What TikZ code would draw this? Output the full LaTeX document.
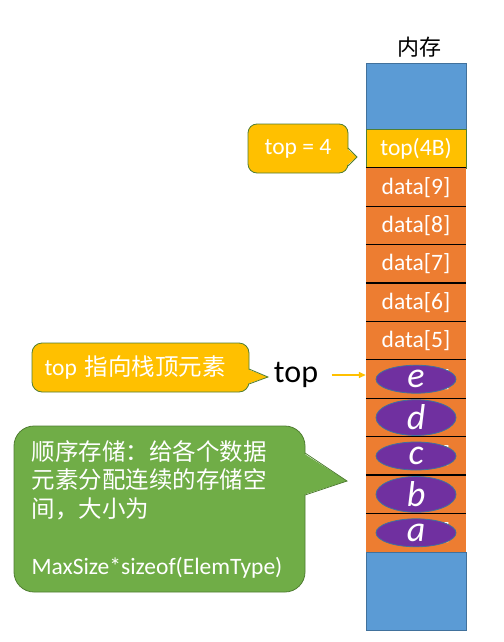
\documentclass[tikz,border=0pt]{standalone}
\usepackage{fontspec}
\setmainfont{Carlito}
\newfontfamily\cjk{Noto Sans CJK SC}
\usetikzlibrary{shapes.geometric,arrows.meta}
\definecolor{memblue}{HTML}{5B9BD5}
\definecolor{memorange}{HTML}{ED7D31}
\definecolor{memgold}{HTML}{FFC000}
\definecolor{memgreen}{HTML}{70AD47}
\definecolor{mempurple}{HTML}{7030A0}
\definecolor{rimgreen}{HTML}{507E32}
\definecolor{rimblue}{HTML}{41719C}
% pointer of a note: colour, x of edge, y top, y bottom, tip
\newcommand\notetip[5]{%
  \fill[#1] (#2-2,#3) -- #5 -- (#2-2,#4) -- cycle;
  \draw[rimgreen,line width=0.8pt] (#2,#3) -- #5 -- (#2,#4);}

\begin{document}
\begin{tikzpicture}[x=1pt,y=-1pt,
  cell/.style={fill=memorange,minimum width=100pt,minimum height=38.4pt,inner sep=0pt,text=white,font=\fontsize{23.5}{28}\selectfont},
  sep/.style={black,line width=1.1pt},
  elem/.style={ellipse,draw=rimblue,line width=0.8pt,fill=mempurple,minimum width=80pt,minimum height=28pt,inner sep=0pt,text=white,font=\fontsize{36}{36}\selectfont\itshape},
  note/.style={draw=rimgreen,line width=0.8pt,text=white,inner sep=0pt,font=\fontsize{23.5}{28.5}\selectfont}]
  \useasboundingbox (0,0) rectangle (503,642);

  \node[font=\cjk\fontsize{22}{22}\selectfont] (mem) at (419,47) {内存}; %titel
  \node[fill=memblue,draw=rimblue,minimum width=100pt,minimum height=66pt] (freetop) at (416,96) {}; %ledig plads
  \node[cell,fill=memgold,draw=rimgreen,line width=0.8pt,minimum height=39pt] (topcell) at (416,148.5) {top(4B)};

  \foreach \i [count=\k from 0] in {9,...,5} {
    \node[cell] (d\i) at (416,187.2+38.4*\k) {data[\i]};
    \draw[sep] (d\i.north west) -- (d\i.north east);
  }
  \foreach \n/\i [count=\k from 0] in {e/4,d/3,c/2,b/1,a/0} {
    \node[cell] (d\i) at (416,379.2+38.4*\k) {data[\i]};
    \draw[sep] (d\i.north west) -- (d\i.north east);
    \node[elem] (\n) at (d\i) {\n}; %element i stakken
  }
  \node[fill=memblue,draw=rimblue,minimum width=100pt,minimum height=78pt] (freebot) at (416,591) {}; %ledig plads

  % noter
  \node[note,fill=memgold,rounded corners=9pt,minimum width=100pt,minimum height=49pt] (n1) at (298,148.5) {top = 4};
  \notetip{memgold}{348}{148}{166}{(357,157)}
  \node[note,fill=memgold,rounded corners=10pt,minimum width=217pt,minimum height=49pt,text width=192pt,align=left] (n2) at (140.5,367.5) {top \cjk 指向栈顶元素};
  \notetip{memgold}{249}{369}{384}{(268,377)}
  \node[note,fill=memgreen,rounded corners=20pt,minimum width=291pt,minimum height=166pt,text width=256pt,align=left] (n3) at (159.5,509)
    {\cjk 顺序存储：给各个数据\\元素分配连续的存储空\\间，大小为\\[28.5pt]\rmfamily MaxSize*sizeof(ElemType)};
  \notetip{memgreen}{305}{453}{495}{(347,481)}

  \node[font=\fontsize{32}{32}\selectfont] (toplbl) at (296,375) {top};
  \draw[-{Triangle[length=7pt,width=6pt]},memgold,line width=1.4pt,shorten <=10pt] (toplbl.east) -- (toplbl.east -| d4.west); %peger
\end{tikzpicture}
\end{document}
